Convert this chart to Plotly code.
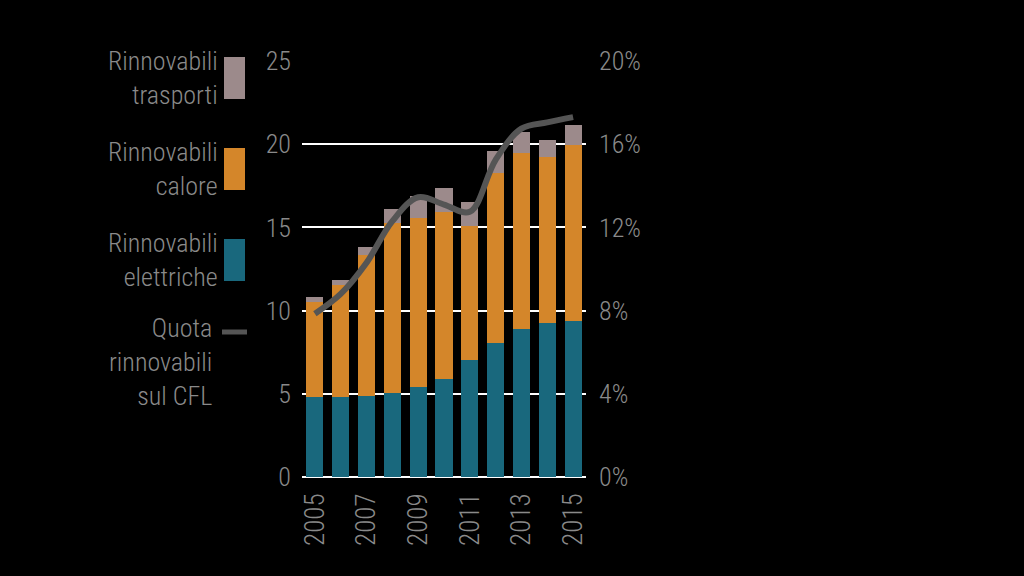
import plotly.graph_objects as go

anni = [str(y) for y in range(2005, 2016)]
elettriche = [4.8, 4.8, 4.85, 5.07, 5.39, 5.89, 7.03, 8.03, 8.87, 9.23, 9.37]
calore = [5.74, 6.74, 8.49, 10.17, 10.16, 10.05, 8.05, 10.22, 10.58, 9.98, 10.58]
trasporti = [0.28, 0.3, 0.46, 0.85, 1.35, 1.45, 1.42, 1.36, 1.3, 1.04, 1.2]
quota = [7.85, 8.8, 10.3, 12.3, 13.45, 13.1, 12.75, 15.25, 16.75, 17.05, 17.3]

y_ticks = [0, 5, 10, 15, 20, 25]
y2_ticks = [0, 4, 8, 12, 16, 20]
y2_labels = ["0%", "4%", "8%", "12%", "16%", "20%"]
x_ticks = ["2005", "2007", "2009", "2011", "2013", "2015"]

FONT = "Roboto Condensed, sans-serif"
TXT = "#8a8a8a"
FS = 26
C_ELE = "#19687d"
C_CAL = "#d4862a"
C_TRA = "#9c8a8b"
C_LINE = "#555555"

fig = go.Figure()
fig.add_trace(go.Bar(x=anni, y=elettriche, marker_color=C_ELE, marker_line_width=0, name="Rinnovabili elettriche"))
fig.add_trace(go.Bar(x=anni, y=calore, marker_color=C_CAL, marker_line_width=0, name="Rinnovabili calore"))
fig.add_trace(go.Bar(x=anni, y=trasporti, marker_color=C_TRA, marker_line_width=0, name="Rinnovabili trasporti"))
fig.add_trace(go.Scatter(x=anni, y=quota, mode="lines", yaxis="y2",
                         line=dict(color=C_LINE, width=6, shape="spline", smoothing=1.0),
                         name="Quota rinnovabili sul CFL"))

xd = [302 / 1024, 586 / 1024]
yd = [99 / 576, 515 / 576]
tf = dict(family=FONT, size=FS, color=TXT, weight=300)
lf = dict(family=FONT, size=26, color=TXT, weight=300)

fig.update_layout(
    width=1024, height=576,
    paper_bgcolor="black", plot_bgcolor="black",
    margin=dict(l=0, r=0, t=0, b=0, autoexpand=False),
    barmode="stack", bargap=0.34,
    showlegend=False,
    font=dict(family=FONT, color=TXT, size=FS),
    xaxis=dict(domain=xd, type="category", range=[-0.5, 10.5], automargin=False,
               tickmode="array", tickvals=x_ticks, ticktext=x_ticks,
               tickangle=-90, showgrid=False, showline=False, zeroline=False,
               ticks="", ticklabelstandoff=10, tickfont=dict(tf, size=27)),
    yaxis=dict(domain=yd, range=[0, 25], tickvals=y_ticks, automargin=False,
               showgrid=True, gridcolor="white", gridwidth=2,
               zeroline=True, zerolinecolor="white", zerolinewidth=2,
               showline=False, ticks="", ticklabelstandoff=10, tickfont=tf),
    yaxis2=dict(domain=yd, overlaying="y", side="right", range=[0, 20], automargin=False,
                tickvals=y2_ticks, ticktext=y2_labels, showgrid=False,
                zeroline=False, showline=False, ticks="", ticklabelstandoff=12,
                anchor="x", tickfont=tf),
)

legend = [
    ("Rinnovabili<br>trasporti", C_TRA, 78),
    ("Rinnovabili<br>calore", C_CAL, 169),
    ("Rinnovabili<br>elettriche", C_ELE, 260),
]
for text, col, yc in legend:
    fig.add_annotation(xref="paper", yref="paper", x=220 / 1024, y=1 - yc / 576,
                       text=text, showarrow=False, xanchor="right", yanchor="middle",
                       align="right", font=lf)
    fig.add_shape(type="rect", xref="paper", yref="paper",
                  x0=224 / 1024, x1=245 / 1024, y0=1 - (yc + 21) / 576, y1=1 - (yc - 21) / 576,
                  fillcolor=col, line=dict(width=0))

fig.add_annotation(xref="paper", yref="paper", x=214 / 1024, y=1 - 362 / 576,
                   text="Quota<br>rinnovabili<br>sul CFL", showarrow=False,
                   xanchor="right", yanchor="middle", align="right", font=lf)
fig.add_shape(type="line", xref="paper", yref="paper",
              x0=222 / 1024, x1=247 / 1024, y0=1 - 332 / 576, y1=1 - 332 / 576,
              line=dict(color=C_LINE, width=5))

fig.write_html("out.html")
